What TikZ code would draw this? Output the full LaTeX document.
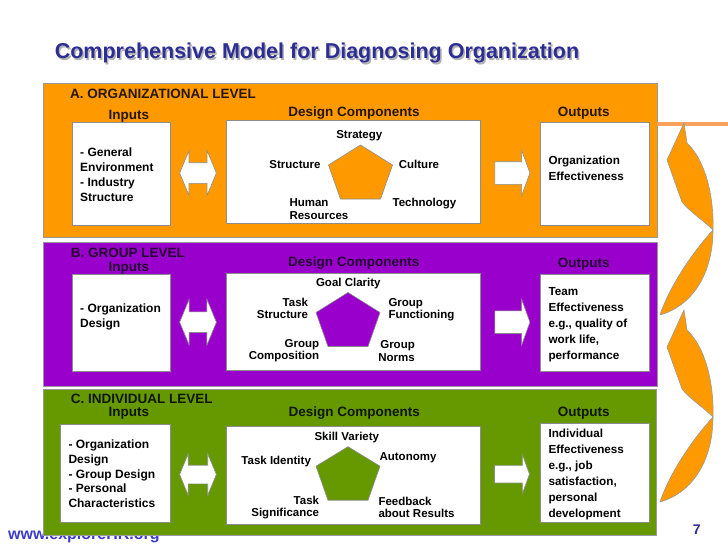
\documentclass[tikz,border=0pt]{standalone}
\usepackage{fontspec}
\setmainfont{Liberation Sans}
\usetikzlibrary{shapes.arrows,calc}
\definecolor{LevelOrg}{RGB}{255,153,0}
\definecolor{LevelGroup}{RGB}{153,0,204}
\definecolor{LevelInd}{RGB}{102,153,0}
\definecolor{TitleBlue}{RGB}{45,45,150}
\definecolor{LinkOrange}{RGB}{248,162,92}
\definecolor{WebBlue}{RGB}{60,60,200}

\begin{document}
\begin{tikzpicture}[x=1pt, y=-1pt,
        panel/.style={draw=black!40, line width=0.8pt, minimum width=614pt, inner sep=0pt},
        whitebox/.style={draw=black!45, fill=white, line width=0.6pt, inner sep=0pt},
        title/.style={font=\fontsize{21.5}{24}\bfseries, inner sep=0pt},
        head/.style={font=\fontsize{13.5}{15}\bfseries, inner sep=0pt},
        body/.style={font=\fontsize{12}{14.7}\bfseries, align=left, inner sep=0pt, anchor=west},
        outtext/.style={font=\fontsize{11.7}{16}\bfseries, align=left, inner sep=0pt, anchor=west},
        comp/.style={font=\fontsize{11.5}{12.5}\bfseries, inner sep=0pt},
        penta/.style={draw=black!45, line width=0.6pt},
        both/.style={draw=black!45, fill=white, shape=double arrow, line width=0.6pt, inner xsep=0pt,
                                minimum height=36.7pt, double arrow tip angle=135},
        fwd/.style={draw=black!45, fill=white, shape=single arrow, line width=0.6pt, inner xsep=0pt,
                                minimum height=35pt, single arrow tip angle=140},
        cyclearrow/.style={draw=black!40, fill=LevelOrg, line width=0.6pt}
]
    \useasboundingbox (0,0) rectangle (728,546);
    \node[title, text=black!30]   (titleshadow) at (318.5,54.5) {Comprehensive Model for Diagnosing Organization};
    \node[title, text=TitleBlue]  (title)       at (317,53)     {Comprehensive Model for Diagnosing Organization};
    \node[font=\fontsize{16}{18}\bfseries, text=WebBlue, inner sep=0pt, anchor=base west] (site) at (8,539.3) {www.exploreHR.org};
    \node[font=\fontsize{14}{16}\bfseries, text=TitleBlue, inner sep=0pt] (pagenum) at (696.7,530) {7};

    % level panels
    \node[panel, fill=LevelOrg,   minimum height=154pt] (lvlA) at (350,160) {};
    \node[panel, fill=LevelGroup, minimum height=144pt] (lvlB) at (350,314) {};
    \node[panel, fill=LevelInd,   minimum height=146pt, minimum width=613pt] (lvlC) at (349.5,462) {};

    % A. organizational level
    \node[head, anchor=west, text=black!85!LevelOrg] (labA) at (70,94.3) {A. ORGANIZATIONAL LEVEL};
    \node[head, text=black!85!LevelOrg] (hinA)  at (128.8,116.7) {Inputs};
    \node[head, text=black!85!LevelOrg] (hdsA)  at (354,112.7)   {Design Components};
    \node[head, text=black!85!LevelOrg] (houtA) at (583.7,112.7) {Outputs};
    \node[whitebox, minimum width=97.7pt, minimum height=103.4pt] (inA)  at (121.2,174) {};
    \node[whitebox, minimum width=254pt,  minimum height=102.6pt] (dsA)  at (353,172)   {};
    \node[whitebox, minimum width=108.6pt, minimum height=103.4pt] (outA) at (595,174)  {};
    \node[body]    (inAtxt)  at (80,174.7)    {- General\\Environment\\- Industry\\Structure};
    \node[outtext] (outAtxt) at (548.3,168)   {Organization\\Effectiveness};
    \coordinate (pA) at (360.5,145);
    \draw[penta, fill=LevelOrg] (pA) -- ++(32,20) -- ++(-12,34) -- ++(-40,0) -- ++(-12,-34) -- cycle;
    \node[comp] (strategy)   at (359.3,136)  {Strategy};
    \node[comp] (structure)  at (295,164.3)  {Structure};
    \node[comp] (culture)    at (419,164.3)  {Culture};
    \node[comp, anchor=west, align=left] (human) at (289.3,209.2) {Human\\Resources};
    \node[comp] (technology) at (424.5,203.3) {Technology};
    \node[both, inner ysep=10pt, double arrow head extend=12pt]   (arrAin)  at ($(inA.east)!0.5!(dsA.west)$)  {};
    \node[fwd,  inner ysep=11pt, single arrow head extend=11.5pt] (arrAout) at ($(dsA.east)!0.5!(outA.west)$) {};

    % B. group level
    \node[head, anchor=west, text=black!75!LevelGroup] (labB) at (70.7,252.7) {B. GROUP LEVEL};
    \node[head, text=black!75!LevelGroup] (hinB)  at (128.8,268.3) {Inputs};
    \node[head, text=black!75!LevelGroup] (hdsB)  at (353.8,263.3) {Design Components};
    \node[head, text=black!75!LevelGroup] (houtB) at (583.7,264)   {Outputs};
    \node[whitebox, minimum width=97.7pt, minimum height=96.7pt]  (inB)  at (121.2,322.7) {};
    \node[whitebox, minimum width=254pt,  minimum height=96.7pt]  (dsB)  at (353,321.7)   {};
    \node[whitebox, minimum width=108.6pt, minimum height=96.7pt] (outB) at (595,322.7)   {};
    \node[body]    (inBtxt)  at (80,316.7)    {- Organization\\Design};
    \node[outtext] (outBtxt) at (548.3,324.7) {Team\\Effectiveness\\e.g., quality of\\work life,\\performance};
    \coordinate (pB) at (348,292.5);
    \draw[penta, fill=LevelGroup] (pB) -- ++(32,20) -- ++(-12,34) -- ++(-40,0) -- ++(-12,-34) -- cycle;
    \node[comp] (goal) at (348.3,283.3) {Goal Clarity};
    \node[comp, anchor=east, align=right] (taskstr)  at (308.3,308.3) {Task\\Structure};
    \node[comp, anchor=west, align=left]  (groupfun) at (388.3,309.5) {Group\\Functioning};
    \node[comp, anchor=east, align=right] (groupcom) at (319.3,350.8) {Group\\Composition};
    \node[comp, anchor=east, align=right] (groupnor) at (415,350.8)   {Group\\Norms};
    \node[both, inner ysep=10pt, double arrow head extend=12.5pt] (arrBin)  at ($(inB.east)!0.5!(dsB.west)$)  {};
    \node[fwd,  inner ysep=11pt, single arrow head extend=11.5pt] (arrBout) at ($(dsB.east)!0.5!(outB.west)$) {};

    % C. individual level
    \node[head, anchor=west, text=black!85!LevelInd] (labC) at (70.7,399) {C. INDIVIDUAL LEVEL};
    \node[head, text=black!85!LevelInd] (hinC)  at (128.8,413.3) {Inputs};
    \node[head, text=black!85!LevelInd] (hdsC)  at (354.2,413.3) {Design Components};
    \node[head, text=black!85!LevelInd] (houtC) at (583.7,413.3) {Outputs};
    \node[whitebox, minimum width=109.3pt, minimum height=98.4pt] (inC)  at (115.3,473.5) {};
    \node[whitebox, minimum width=254pt,   minimum height=97.6pt] (dsC)  at (353,475.5)   {};
    \node[whitebox, minimum width=108.6pt, minimum height=99pt]   (outC) at (595,472.8)   {};
    \node[body]    (inCtxt)  at (68.3,473.9)  {- Organization\\Design\\- Group Design\\- Personal\\Characteristics};
    \node[outtext] (outCtxt) at (548.3,474.7) {Individual\\Effectiveness\\e.g., job\\satisfaction,\\personal\\development};
    \coordinate (pC) at (348,446.7);
    \draw[penta, fill=LevelInd] (pC) -- ++(32,19.5) -- ++(-12,34) -- ++(-40,0) -- ++(-12,-34) -- cycle;
    \node[comp] (skill)    at (346.8,437.7) {Skill Variety};
    \node[comp] (identity) at (276.2,461.7) {Task Identity};
    \node[comp] (autonomy) at (408,457.7)   {Autonomy};
    \node[comp, anchor=east, align=right] (signif)   at (319.3,507.3) {Task\\Significance};
    \node[comp, anchor=west, align=left]  (feedback) at (378.3,507.3) {Feedback\\about Results};
    \node[both, inner ysep=9pt,   double arrow head extend=11.5pt] (arrCin)  at ($(inC.east)!0.5!(dsC.west)$)  {};
    \node[fwd,  inner ysep=8.5pt, single arrow head extend=10.5pt] (arrCout) at ($(dsC.east)!0.5!(outC.west)$) {};

    % feedback arrows on the right
    \coordinate (edgeR) at (728,124);
    \draw[LinkOrange, line width=4pt] (lvlA.east |- edgeR) -- (edgeR);
    \foreach \dy in {0,187} {
        \begin{scope}[shift={(0,\dy)}]
            \filldraw[cyclearrow] (684,123) -- (687,143)
                .. controls (705,160) and (714,195) .. (713,230)
                .. controls (713,270) and (695,305) .. (660,315)
                .. controls (668,290) and (690,255) .. (713,230)
                .. controls (703,220) and (690,212) .. (682,202)
                -- (667,160) -- cycle;
        \end{scope}
    }
\end{tikzpicture}
\end{document}
